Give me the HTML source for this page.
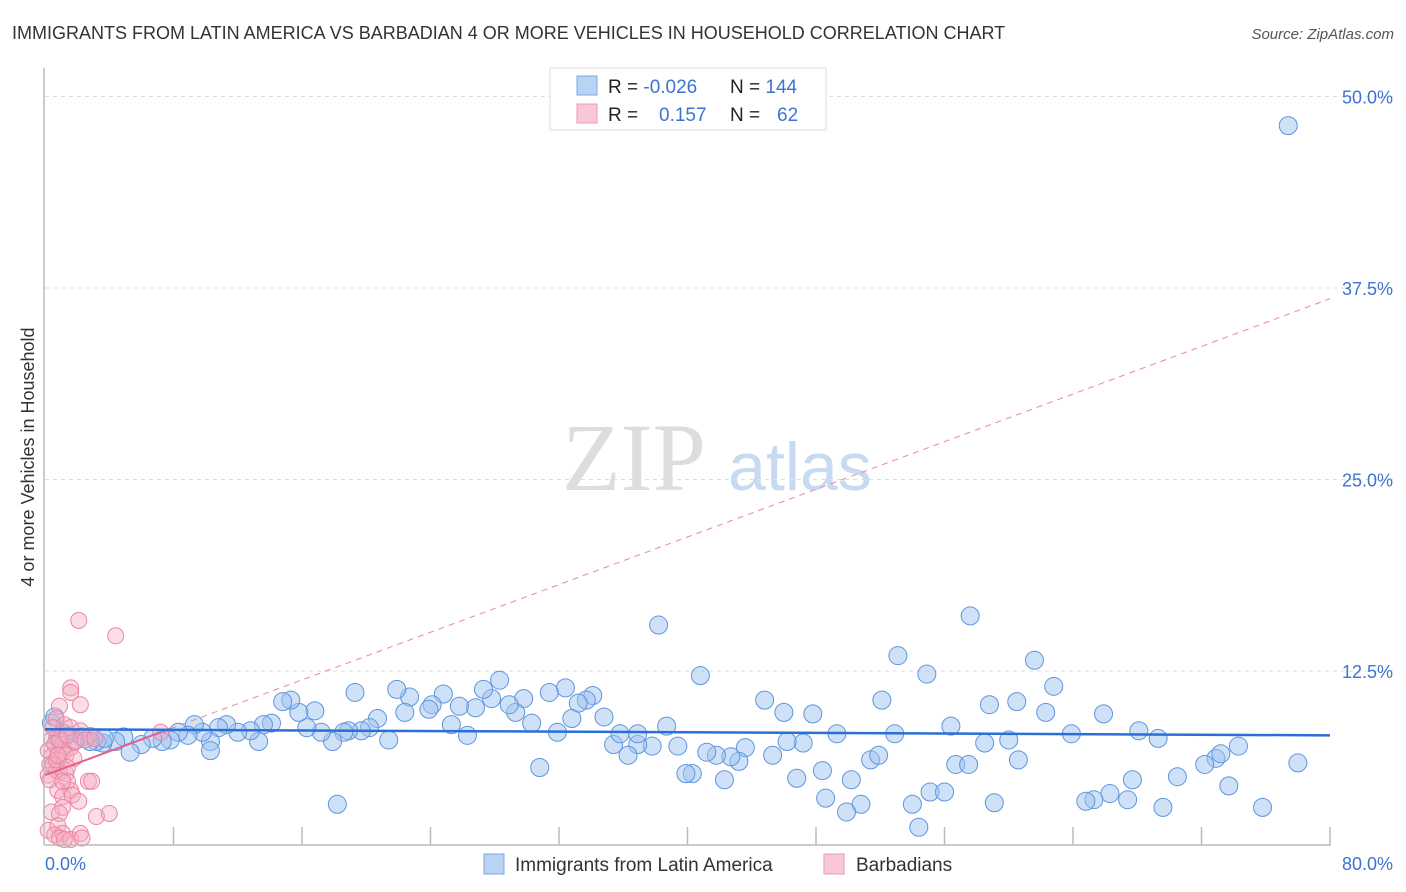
<!DOCTYPE html>
<html><head><meta charset="utf-8"><style>
body{margin:0;background:#fff;font-family:"Liberation Sans",sans-serif}
svg{display:block}
</style></head><body>
<svg id="c" width="1406" height="892">
<text x="12" y="39" font-size="18" fill="#333">IMMIGRANTS FROM LATIN AMERICA VS BARBADIAN 4 OR MORE VEHICLES IN HOUSEHOLD CORRELATION CHART</text>
<text x="1394" y="39" font-size="15" fill="#555" font-style="italic" text-anchor="end">Source: ZipAtlas.com</text>
<text x="634" y="490" font-size="96" fill="#ddd" font-family="Liberation Serif,serif" text-anchor="middle">ZIP</text>
<text x="800" y="490" font-size="68" fill="#c8daf2" text-anchor="middle">atlas</text>
<text transform="translate(34,457) rotate(-90)" font-size="18" fill="#333" text-anchor="middle">4 or more Vehicles in Household</text>
<g id="grid"></g><g id="pts"></g><g id="trend"></g>
<line x1="44" y1="68" x2="44" y2="845" stroke="#bbb" stroke-width="1.5"/>
<line x1="44" y1="845" x2="1331" y2="845" stroke="#bbb" stroke-width="1.5"/>
<text x="45" y="870" font-size="18" fill="#3d73d0">0.0%</text>
<text x="1393" y="870" font-size="18" fill="#3d73d0" text-anchor="end">80.0%</text>
<g>
<rect x="550" y="68" width="276" height="62" fill="#fff" stroke="#ddd"/>
<rect x="577" y="76" width="20" height="19" fill="#b9d3f5" stroke="#7aa7e8"/>
<rect x="577" y="104" width="20" height="19" fill="#f9c8d6" stroke="#ee9ab2"/>
<text x="608" y="93" font-size="19" fill="#222">R = <tspan fill="#3d73d0">-0.026</tspan></text>
<text x="730" y="93" font-size="19" fill="#222">N = <tspan fill="#3d73d0">144</tspan></text>
<text x="608" y="121" font-size="19" fill="#222">R = <tspan fill="#3d73d0" x="659">0.157</tspan></text>
<text x="730" y="121" font-size="19" fill="#222">N = <tspan fill="#3d73d0" x="777">62</tspan></text>
</g>
<g>
<rect x="484" y="854" width="20" height="20" fill="#b9d3f5" stroke="#7aa7e8"/>
<text x="515" y="871" font-size="19" fill="#333">Immigrants from Latin America</text>
<rect x="824" y="854" width="20" height="20" fill="#f9c8d6" stroke="#ee9ab2"/>
<text x="856" y="871" font-size="19" fill="#333">Barbadians</text>
</g>
</svg>
<script>
const yTicks=[12.5,25,37.5,50];
const yTickLabels=["12.5%","25.0%","37.5%","50.0%"];
const xTicks=[0,8,16,24,32,40,48,56,64,72,80];
const blueX=[77.4,38.2,57.6,40.8,53.1,61.6,54.9,62.8,52.1,44.8,60.5,58.8,65.9,62.3,46.0,47.8,56.4,68.1,69.3,63.9,74.3,58.5,60.0,60.6,72.9,72.2,73.2,78.0,70.5,67.7,66.3,65.3,64.8,67.4,69.6,73.7,75.8,56.7,57.5,55.1,56.0,59.1,54.0,54.4,50.8,49.9,48.6,50.2,48.4,46.8,51.4,51.9,52.9,49.3,47.2,46.2,45.3,43.6,43.2,42.7,41.8,41.2,42.3,40.3,39.9,39.4,38.7,37.8,36.9,36.3,35.4,35.8,36.9,34.8,34.1,33.7,33.2,32.8,32.4,31.4,31.9,30.8,30.3,29.8,29.3,28.9,28.3,27.8,27.3,26.8,26.3,25.8,25.3,24.8,24.1,23.9,22.7,22.4,21.9,21.4,20.7,20.2,19.7,18.9,19.3,18.6,17.9,17.2,16.8,16.3,15.8,15.3,14.8,14.1,13.6,13.3,12.8,12.0,11.3,10.8,10.3,9.8,9.3,8.9,8.3,7.8,7.3,6.7,6.0,5.3,4.9,4.4,3.6,3.2,2.3,1.9,1.2,0.8,0.4,0.6,18.2,10.3,3.7,2.8];
const blueY=[48.1,15.5,16.1,12.2,13.5,13.2,12.3,11.5,10.6,10.6,10.5,10.3,9.7,9.8,9.8,9.7,8.9,8.6,8.1,8.4,7.6,7.8,8.0,6.7,6.8,6.4,7.1,6.5,5.6,5.4,4.5,4.1,4.0,4.1,3.6,5.0,3.6,6.4,6.4,4.6,4.6,3.9,3.8,2.3,3.8,3.3,4.2,5.4,6.0,5.5,6.7,7.0,8.4,8.4,7.8,7.9,7.0,7.5,6.6,6.9,7.0,7.2,5.4,5.8,5.8,7.6,8.9,7.6,7.7,7.0,7.7,8.4,8.4,9.5,10.9,10.6,10.4,9.4,11.4,11.1,8.5,6.2,9.1,10.7,9.8,10.3,11.9,10.7,11.3,10.1,8.3,10.2,9.0,11.0,10.3,10.0,10.8,9.8,11.3,8.0,9.4,8.8,8.6,8.6,11.1,8.5,7.9,8.5,9.9,8.8,9.8,10.6,10.5,9.1,9.0,7.9,8.6,8.5,9.0,8.8,7.9,8.5,9.0,8.3,8.5,8.0,7.9,8.1,7.7,7.2,8.2,7.9,7.8,7.9,8.2,8.0,8.4,8.1,9.1,9.5,3.8,7.3,8.1,7.9];
const pinkX=[2.1,4.4,1.6,1.6,2.2,0.9,0.7,1.2,1.6,2.2,2.8,7.2,0.8,0.4,1.1,1.6,0.2,0.4,0.8,0.3,0.7,0.9,0.2,0.5,1.3,1.4,0.8,1.6,2.7,2.9,1.1,1.7,2.1,0.4,1.1,0.9,0.2,0.8,1.1,0.6,0.9,1.6,2.2,2.3,3.2,4.0,1.2,0.7,1.1,0.6,1.3,1.8,0.3,1.4,0.9,1.9,0.5,1.4,2.5,3.1,1.1,0.8];
const pinkY=[15.8,14.8,11.4,11.1,10.3,10.2,9.4,9.0,8.8,8.6,8.3,8.5,8.3,8.0,7.7,7.5,7.3,6.9,6.7,6.4,6.0,5.9,5.7,6.4,5.8,5.3,4.7,4.7,5.3,5.3,4.3,4.4,4.0,3.3,3.6,3.2,2.1,2.4,1.9,1.8,1.6,1.5,1.9,1.6,3.0,3.2,1.5,6.7,7.2,7.7,7.0,6.8,5.4,6.2,8.0,7.9,8.8,8.3,8.0,8.1,5.3,7.0];
const blueTrend=[8.7,8.3];
const pinkTrend=[5.7,36.8];
const pinkSolidEnd=7.8;
const NS="http://www.w3.org/2000/svg";
const sx=v=>45+v*(1285/80);
const sy=v=>862.5-v*15.32;
function mk(t,a,p){const e=document.createElementNS(NS,t);for(const k in a)e.setAttribute(k,a[k]);p.appendChild(e);return e;}
const grid=document.getElementById('grid');
yTicks.forEach((t,i)=>{
 const l=mk('line',{x1:45,x2:1393,y1:sy(t),y2:sy(t),stroke:'#ddd','stroke-dasharray':'4,4'},grid);
 
 
 const tx=mk('text',{x:1393,y:sy(t)+7,'font-size':18,fill:'#3d73d0','text-anchor':'end'},grid);
 tx.textContent=yTickLabels[i];
 
 
});
xTicks.forEach(t=>{
 if(t===0)return;
 const l=mk('line',{x1:sx(t),x2:sx(t),y1:827,y2:845,stroke:'#bbb','stroke-width':1.5},grid);
 
 
});
const pts=document.getElementById('pts');
blueX.forEach((x,i)=>{
 const c=mk('circle',{cx:sx(x),cy:sy(blueY[i]),r:9,fill:'rgba(160,196,240,0.5)',stroke:'#5f95df','stroke-width':1},pts);
 
 
});
pinkX.forEach((x,i)=>{
 const c=mk('circle',{cx:sx(x),cy:sy(pinkY[i]),r:8,fill:'rgba(246,170,192,0.4)',stroke:'#eb86a4','stroke-width':1},pts);
 
 
});
const tr=document.getElementById('trend');
const pf=x=>pinkTrend[0]+(pinkTrend[1]-pinkTrend[0])*x/80;
let l=mk('line',{x1:sx(pinkSolidEnd),y1:sy(pf(pinkSolidEnd)),x2:sx(80),y2:sy(pinkTrend[1]),stroke:'#eb86a4','stroke-width':1,'stroke-dasharray':'6,5'},tr);


l=mk('line',{x1:sx(0),y1:sy(pinkTrend[0]),x2:sx(pinkSolidEnd),y2:sy(pf(pinkSolidEnd)),stroke:'#e4608a','stroke-width':2},tr);


l=mk('line',{x1:sx(0),y1:sy(blueTrend[0]),x2:sx(80),y2:sy(blueTrend[1]),stroke:'#2a6fd6','stroke-width':2.5},tr);


</script>
</body></html>
